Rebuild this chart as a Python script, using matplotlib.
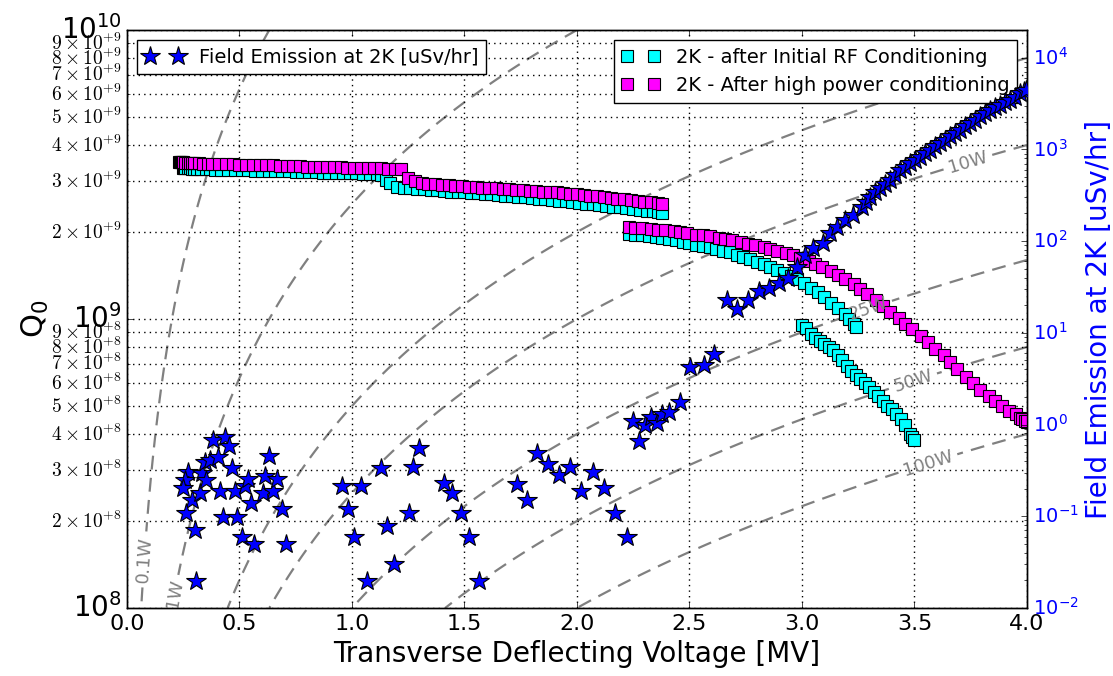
"""Q0 vs transverse deflecting voltage at 2K, with field emission on a twin axis."""

import numpy as np
import matplotlib

matplotlib.use("Agg")
import matplotlib.pyplot as plt
from matplotlib.ticker import FuncFormatter, NullFormatter

# 2K - after initial RF conditioning (Q0 in units of 1e9), four runs
cyan_run1_v = [0.25, 0.255, 0.26, 0.27, 0.28, 0.29, 0.30, 0.31, 0.33, 0.35,
               0.37, 0.39, 0.42, 0.45, 0.48, 0.51, 0.54, 0.57, 0.60, 0.63,
               0.66, 0.69, 0.72, 0.75, 0.78, 0.81, 0.84, 0.87, 0.90, 0.93,
               0.96, 0.99, 1.02, 1.05, 1.08, 1.11, 1.13]
cyan_run1_q = [3.33, 3.33, 3.32, 3.32, 3.32, 3.31, 3.31, 3.31, 3.30, 3.30,
               3.30, 3.29, 3.29, 3.28, 3.28, 3.27, 3.27, 3.26, 3.26, 3.25,
               3.25, 3.24, 3.24, 3.23, 3.23, 3.22, 3.22, 3.21, 3.21, 3.20,
               3.20, 3.19, 3.19, 3.18, 3.18, 3.17, 3.16]
cyan_run2_v = [1.15, 1.17, 1.20, 1.23, 1.26, 1.29, 1.32, 1.35, 1.38, 1.41,
               1.44, 1.47, 1.50, 1.53, 1.56, 1.59, 1.62, 1.65, 1.68, 1.71,
               1.74, 1.77, 1.80, 1.83, 1.86, 1.89, 1.92, 1.95, 1.98, 2.01,
               2.04, 2.07, 2.10, 2.13, 2.16, 2.19, 2.22, 2.25, 2.28, 2.31,
               2.34, 2.36, 2.38]
cyan_run2_q = [3.02, 2.95, 2.87, 2.84, 2.83, 2.82, 2.81, 2.80, 2.79, 2.78,
               2.76, 2.75, 2.74, 2.73, 2.72, 2.71, 2.70, 2.69, 2.67, 2.66,
               2.65, 2.64, 2.63, 2.61, 2.60, 2.59, 2.57, 2.56, 2.54, 2.53,
               2.51, 2.50, 2.48, 2.47, 2.45, 2.44, 2.42, 2.41, 2.39, 2.37,
               2.36, 2.34, 2.33]
cyan_run3_v = [2.23, 2.26, 2.29, 2.32, 2.35, 2.38, 2.41, 2.44, 2.47, 2.50,
               2.53, 2.56, 2.59, 2.62, 2.65, 2.68, 2.71, 2.74, 2.77, 2.80,
               2.83, 2.86, 2.89, 2.92, 2.95, 2.98, 3.01, 3.04, 3.07, 3.10,
               3.13, 3.16, 3.19, 3.21, 3.23, 3.24]
cyan_run3_q = [1.97, 1.96, 1.95, 1.93, 1.92, 1.90, 1.89, 1.87, 1.85, 1.83,
               1.81, 1.79, 1.77, 1.75, 1.72, 1.70, 1.67, 1.64, 1.61, 1.58,
               1.55, 1.51, 1.48, 1.44, 1.41, 1.37, 1.33, 1.28, 1.24, 1.19,
               1.14, 1.09, 1.04, 1.00, 0.96, 0.94]
cyan_run4_v = [3.00, 3.02, 3.04, 3.06, 3.08, 3.10, 3.12, 3.14, 3.16, 3.18,
               3.20, 3.22, 3.24, 3.26, 3.28, 3.30, 3.32, 3.34, 3.36, 3.38,
               3.40, 3.42, 3.44, 3.46, 3.48, 3.49, 3.50]
cyan_run4_q = [0.95, 0.93, 0.89, 0.86, 0.84, 0.82, 0.80, 0.78, 0.75, 0.72,
               0.69, 0.66, 0.64, 0.62, 0.60, 0.58, 0.56, 0.54, 0.52, 0.50,
               0.49, 0.47, 0.45, 0.43, 0.40, 0.39, 0.38]

# 2K - after high power conditioning (Q0 in units of 1e9)
mag_run1_v = [0.23, 0.235, 0.24, 0.245, 0.25, 0.26, 0.27, 0.28, 0.29, 0.30,
              0.32, 0.34, 0.36, 0.38, 0.41, 0.44, 0.47, 0.50, 0.53, 0.56,
              0.59, 0.62, 0.65, 0.68, 0.71, 0.74, 0.77, 0.80, 0.83, 0.86,
              0.89, 0.92, 0.95, 0.98, 1.01, 1.04, 1.07, 1.10, 1.13, 1.16,
              1.19, 1.22]
mag_run1_q = [3.49, 3.49, 3.48, 3.48, 3.48, 3.47, 3.47, 3.47, 3.46, 3.46,
              3.46, 3.45, 3.45, 3.44, 3.44, 3.43, 3.43, 3.42, 3.42, 3.41,
              3.41, 3.40, 3.40, 3.39, 3.39, 3.38, 3.38, 3.37, 3.37, 3.36,
              3.36, 3.35, 3.35, 3.34, 3.34, 3.33, 3.33, 3.32, 3.32, 3.31,
              3.31, 3.30]
mag_run2_v = [1.25, 1.28, 1.31, 1.34, 1.37, 1.40, 1.43, 1.46, 1.49, 1.52,
              1.55, 1.58, 1.61, 1.64, 1.67, 1.70, 1.73, 1.76, 1.79, 1.82,
              1.85, 1.88, 1.91, 1.94, 1.97, 2.00, 2.03, 2.06, 2.09, 2.12,
              2.15, 2.18, 2.21, 2.24, 2.27, 2.30, 2.33, 2.36, 2.38]
mag_run2_q = [3.08, 3.00, 2.96, 2.94, 2.93, 2.91, 2.90, 2.89, 2.88, 2.87,
              2.86, 2.85, 2.84, 2.83, 2.82, 2.81, 2.80, 2.79, 2.78, 2.77,
              2.76, 2.75, 2.74, 2.72, 2.71, 2.70, 2.68, 2.67, 2.66, 2.64,
              2.63, 2.61, 2.60, 2.58, 2.57, 2.55, 2.54, 2.52, 2.51]
mag_run3_v = [2.23, 2.26, 2.29, 2.33, 2.36, 2.39, 2.43, 2.46, 2.49, 2.53,
              2.56, 2.59, 2.63, 2.66, 2.69, 2.73, 2.76, 2.79, 2.83, 2.86,
              2.89, 2.93, 2.96, 2.99, 3.03, 3.06, 3.09, 3.13, 3.16, 3.19,
              3.23, 3.26, 3.29, 3.33, 3.36, 3.39, 3.43, 3.46, 3.49, 3.53,
              3.56, 3.59, 3.63, 3.66, 3.69, 3.73, 3.76, 3.79, 3.83, 3.86,
              3.89, 3.92, 3.95, 3.97, 3.98, 3.99, 4.00, 4.00]
mag_run3_q = [2.08, 2.07, 2.06, 2.05, 2.04, 2.03, 2.01, 2.00, 1.98, 1.96,
              1.95, 1.93, 1.91, 1.89, 1.87, 1.85, 1.82, 1.80, 1.77, 1.74,
              1.72, 1.69, 1.66, 1.63, 1.59, 1.55, 1.51, 1.47, 1.42, 1.37,
              1.32, 1.27, 1.22, 1.16, 1.11, 1.06, 1.01, 0.96, 0.92, 0.87,
              0.83, 0.79, 0.75, 0.71, 0.67, 0.63, 0.60, 0.57, 0.54, 0.52,
              0.50, 0.48, 0.47, 0.455, 0.45, 0.445, 0.44, 0.445]

# field emission dose rate at 2K [uSv/hr]
fe_v = [0.273, 0.258, 0.250, 0.287, 0.262, 0.302, 0.307, 0.324, 0.332, 0.351,
        0.347, 0.369, 0.384, 0.406, 0.436, 0.455, 0.465, 0.413, 0.425, 0.480,
        0.490, 0.510, 0.524, 0.539, 0.550, 0.564, 0.603, 0.613, 0.633, 0.650,
        0.668, 0.688, 0.707, 0.954, 0.984, 1.009, 1.039, 1.068, 1.127, 1.154,
        1.188, 1.255, 1.270, 1.299, 1.409, 1.443, 1.483, 1.521, 1.566, 1.735,
        1.779, 1.824, 1.873, 1.920, 1.969, 2.018, 2.070, 2.120, 2.169, 2.221,
        2.247, 2.276, 2.302, 2.327, 2.354, 2.376, 2.409, 2.458, 2.502, 2.564,
        2.609, 2.665, 2.712, 2.761, 2.809, 2.855, 2.898, 2.939, 2.976, 3.013,
        3.050, 3.092, 3.124, 3.154, 3.191, 3.228, 3.265, 3.285, 3.302, 3.325,
        3.347, 3.370, 3.391, 3.414, 3.436, 3.458, 3.480, 3.502, 3.524, 3.546,
        3.569, 3.591, 3.613, 3.636, 3.658, 3.680, 3.702, 3.725, 3.747, 3.769,
        3.791, 3.814, 3.836, 3.858, 3.880, 3.902, 3.924, 3.946, 3.969, 3.985,
        3.995]
fe_dose = [0.306, 0.249, 0.202, 0.151, 0.108, 0.070, 0.0197, 0.178, 0.294, 0.249,
           0.394, 0.411, 0.679, 0.440, 0.738, 0.589, 0.333, 0.189, 0.099, 0.189,
           0.099, 0.060, 0.214, 0.253, 0.138, 0.050, 0.178, 0.277, 0.455, 0.189,
           0.253, 0.119, 0.050, 0.214, 0.119, 0.060, 0.214, 0.0197, 0.339, 0.079,
           0.030, 0.108, 0.348, 0.552, 0.229, 0.178, 0.108, 0.060, 0.0197, 0.225,
           0.151, 0.487, 0.372, 0.282, 0.342, 0.189, 0.306, 0.202, 0.108, 0.059,
           1.10, 0.662, 0.99, 1.20, 1.05, 1.31, 1.36, 1.78, 4.25, 4.47,
           5.89, 22.9, 18.1, 22.9, 28.8, 30.6, 34.8, 39.4, 52.7, 70.6,
           83.6, 94.8, 122, 144, 170, 193, 238, 270, 306, 340,
           377, 420, 465, 530, 597, 650, 706, 770, 835, 910,
           988, 1080, 1168, 1270, 1381, 1500, 1633, 1780, 1930, 2100,
           2282, 2480, 2698, 2880, 3060, 3260, 3470, 3750, 4100, 4300,
           4450]

# iso-dissipated-power lines [W]
labelled_levels = [0.1, 1, 10, 25, 50, 100]
plain_levels = [5]
label_spots = [(0.09, 1.47e8), (0.23, 1.11e8), (3.72, 3.85e9),
               (3.29, 1.1e9), (3.49, 6.2e8), (3.52, 3.97e8)]
r_over_q = 400.0  # ohm


def minor_label(y, pos):
    """label minor log ticks as 2x10^{+9} etc."""
    exp = int(np.floor(np.log10(y) + 1e-9))
    mant = int(round(y / 10.0**exp))
    return r"$%d\times10^{+%d}$" % (mant, exp)


def main():
    plt.style.use("classic")
    plt.rcParams["figure.facecolor"] = "white"
    plt.rcParams["savefig.facecolor"] = "white"

    fig = plt.figure(figsize=(11.13, 6.76), dpi=100)
    ax = fig.add_axes([0.1141, 0.1006, 0.8086, 0.855])

    # dashed iso-power contours
    vv, qq = np.meshgrid(np.linspace(0.001, 4.0, 900), np.logspace(8, 10, 600))
    power = (vv * 1e6) ** 2 / (r_over_q * qq)
    line_style = dict(colors="gray", linestyles=[(0, (10, 6))],
                      linewidths=1.6, zorder=1)
    cs = ax.contour(vv, qq, power, levels=labelled_levels, **line_style)
    ax.contour(vv, qq, power, levels=plain_levels, **line_style)

    sq = dict(marker="s", ls="none", ms=8.5, mec="k", mew=0.8, zorder=3)
    runs_c = [(cyan_run1_v, cyan_run1_q), (cyan_run2_v, cyan_run2_q),
              (cyan_run3_v, cyan_run3_q), (cyan_run4_v, cyan_run4_q)]
    runs_m = [(mag_run1_v, mag_run1_q), (mag_run2_v, mag_run2_q),
              (mag_run3_v, mag_run3_q)]
    for i, (v, q) in enumerate(runs_c):
        ax.plot(v, np.array(q) * 1e9, mfc="#00ffff",
                label="2K - after Initial RF Conditioning" if i == 0 else None, **sq)
    for i, (v, q) in enumerate(runs_m):
        ax.plot(v, np.array(q) * 1e9, mfc="#ff00ff",
                label="2K - After high power conditioning" if i == 0 else None, **sq)

    ax.set_yscale("log")
    ax.set_xlim(0, 4)
    ax.set_ylim(1e8, 1e10)
    ax.set_xticks(np.arange(0, 4.01, 0.5))
    ax.yaxis.set_minor_formatter(FuncFormatter(minor_label))
    ax.tick_params(axis="x", labelsize=16)
    ax.tick_params(axis="y", which="major", labelsize=20)
    ax.tick_params(axis="y", which="minor", labelsize=14)
    ax.grid(True, axis="x", which="major", color="k", ls=":", lw=1)
    ax.grid(True, axis="y", which="both", color="k", ls=":", lw=1)
    ax.set_xlabel("Transverse Deflecting Voltage [MV]", fontsize=20)
    ax.set_ylabel(r"$\mathdefault{Q_0}$", fontsize=22, labelpad=0)

    ax.clabel(cs, fmt=lambda p: "%gW" % p, manual=label_spots,
              inline=True, fontsize=13, colors="gray")

    ax.legend(loc="upper right", fontsize=14, numpoints=2)

    # field emission on the right axis
    ax2 = ax.twinx()
    ax2.plot(fe_v, fe_dose, "*", color="#0000ff", ms=15, mec="k", mew=0.8,
             label="Field Emission at 2K [uSv/hr]", zorder=4)
    ax2.set_yscale("log")
    ax2.set_ylim(1e-2, 2e4)
    ax2.set_xlim(0, 4)
    ax2.yaxis.set_minor_formatter(NullFormatter())
    ax2.tick_params(axis="y", labelsize=14, labelcolor="b")
    ax2.set_ylabel("Field Emission at 2K [uSv/hr]", fontsize=20, color="b")
    ax2.legend(loc="upper left", fontsize=14, numpoints=2)

    fig.savefig("out.png", dpi=100)
    print("Plot saved as 'out.png'")


if __name__ == "__main__":
    main()
